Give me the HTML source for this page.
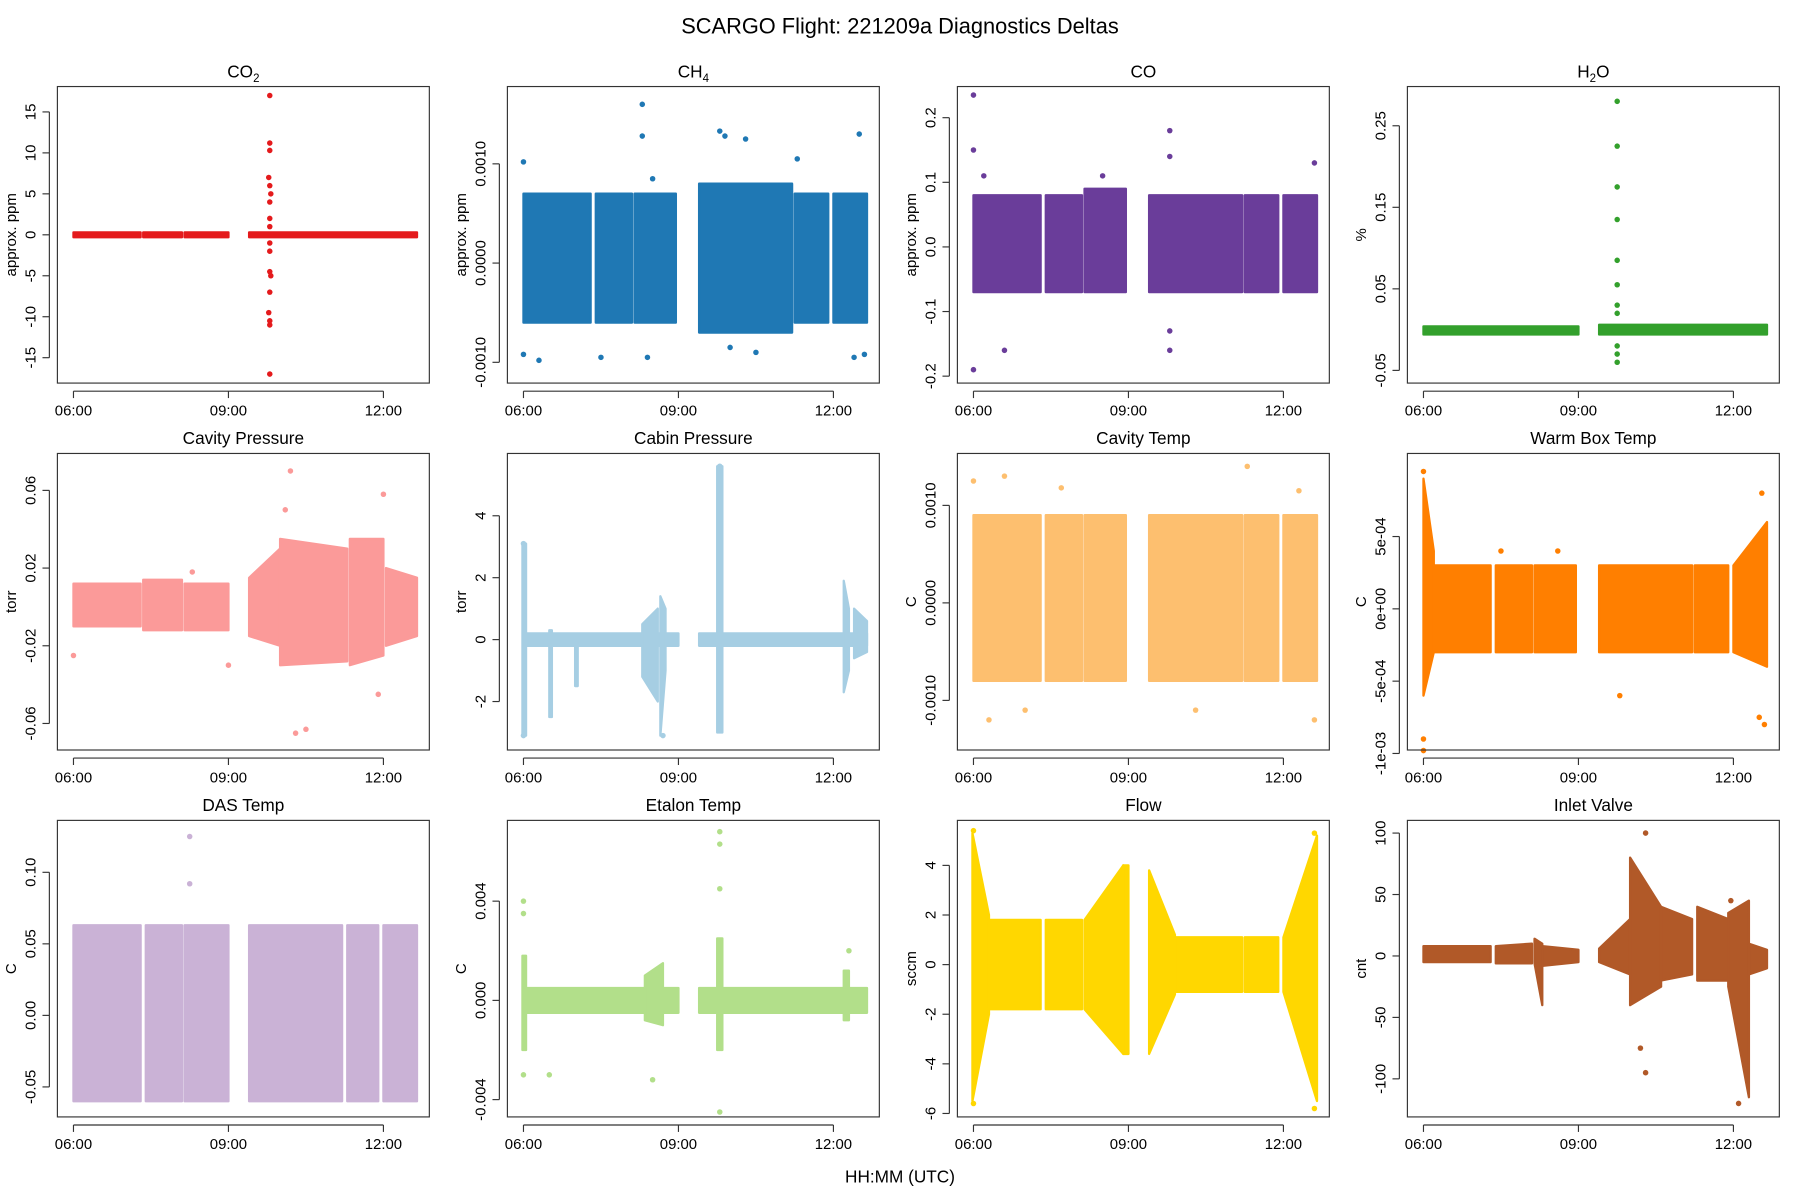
<!DOCTYPE html>
<html><head><meta charset="utf-8"><style>
html,body{margin:0;padding:0;background:#fff;}
svg{display:block;font-family:"Liberation Sans",sans-serif;}
</style></head><body>
<svg id="chart" width="1800" height="1200" viewBox="0 0 1568 1040" preserveAspectRatio="none" xmlns="http://www.w3.org/2000/svg">
<rect width="1568" height="1040" fill="#fff"/>
<text x="784" y="29" text-anchor="middle" font-size="19">SCARGO Flight: 221209a  Diagnostics Deltas</text>
<text x="784" y="1025" text-anchor="middle" font-size="15">HH:MM (UTC)</text>
</svg>
<script>
const xTickHours=[6,9,12];
const xTickLabels=["06:00","09:00","12:00"];
// segments: [t0,t1,lo0,hi0,lo1,hi1]; points: [t,v]
const co2Segs=[[6,7.3,-0.3,0.3,-0.3,0.3],[7.35,8.1,-0.3,0.3,-0.3,0.3],[8.15,9.0,-0.3,0.3,-0.3,0.3],[9.4,12.65,-0.3,0.3,-0.3,0.3]];
const co2Pts=[[9.8,17],[9.8,11.2],[9.8,10.3],[9.78,7],[9.8,6],[9.82,5],[9.8,4],[9.8,2],[9.8,1],[9.8,-1],[9.8,-2],[9.8,-4.5],[9.82,-5],[9.8,-7],[9.78,-9.5],[9.8,-10.5],[9.8,-11],[9.8,-17]];
const ch4Segs=[[6,7.3,-0.0006,0.0007,-0.0006,0.0007],[7.4,8.1,-0.0006,0.0007,-0.0006,0.0007],[8.15,8.95,-0.0006,0.0007,-0.0006,0.0007],[9.4,11.2,-0.0007,0.0008,-0.0007,0.0008],[11.25,11.9,-0.0006,0.0007,-0.0006,0.0007],[12.0,12.65,-0.0006,0.0007,-0.0006,0.0007]];
const ch4Pts=[[6,0.00102],[6,-0.00092],[6.3,-0.00098],[7.5,-0.00095],[8.3,0.0016],[8.3,0.00128],[8.4,-0.00095],[8.5,0.00085],[9.8,0.00133],[9.9,0.00128],[10.3,0.00125],[10.5,-0.0009],[11.3,0.00105],[12.5,0.0013],[12.4,-0.00095],[12.6,-0.00092],[10.0,-0.00085]];
const coSegs=[[6,7.3,-0.07,0.08,-0.07,0.08],[7.4,8.1,-0.07,0.08,-0.07,0.08],[8.15,8.95,-0.07,0.09,-0.07,0.09],[9.4,11.2,-0.07,0.08,-0.07,0.08],[11.25,11.9,-0.07,0.08,-0.07,0.08],[12.0,12.65,-0.07,0.08,-0.07,0.08]];
const coPts=[[6,0.235],[6,0.15],[6,-0.19],[6.6,-0.16],[9.8,0.18],[9.8,0.14],[9.8,-0.16],[9.8,-0.13],[12.6,0.13],[6.2,0.11],[8.5,0.11]];
const h2oSegs=[[6,9.0,-0.006,0.004,-0.006,0.004],[9.4,12.65,-0.006,0.006,-0.006,0.006]];
const h2oPts=[[9.75,0.28],[9.75,0.225],[9.75,0.175],[9.75,0.135],[9.75,0.085],[9.75,0.055],[9.75,0.03],[9.75,0.02],[9.75,-0.02],[9.75,-0.03],[9.75,-0.04]];
const cpSegs=[[6,7.3,-0.01,0.012,-0.01,0.012],[7.35,8.1,-0.012,0.014,-0.012,0.014],[8.15,9.0,-0.012,0.012,-0.012,0.012],[9.4,10.0,-0.015,0.015,-0.02,0.03],[10.0,11.3,-0.03,0.035,-0.028,0.03],[11.35,12.0,-0.03,0.035,-0.025,0.035],[12.05,12.65,-0.02,0.02,-0.015,0.015]];
const cpPts=[[6,-0.025],[10.2,0.07],[10.3,-0.065],[10.5,-0.063],[12.0,0.058],[10.1,0.05],[11.9,-0.045],[9.0,-0.03],[8.3,0.018]];
const cabSegs=[[6,9.0,-0.2,0.2,-0.2,0.2],[9.4,12.65,-0.2,0.2,-0.2,0.2],[5.98,6.05,-3.1,3.1,-3.1,3.1],[6.5,6.55,-2.5,0.3,-2.5,0.3],[7.0,7.05,-1.5,0.1,-1.5,0.1],[8.3,8.6,-1.2,0.5,-2,1],[8.65,8.75,-3.1,1.4,-1,1],[9.75,9.85,-3,5.6,-3,5.6],[12.2,12.3,-1.7,1.9,-1,1],[12.4,12.65,-0.6,1,-0.4,0.6]];
const cabPts=[[9.8,5.6],[6,3.1],[6,-3.1],[8.7,-3.1]];
const ctSegs=[[6,7.3,-0.0008,0.0009,-0.0008,0.0009],[7.4,8.1,-0.0008,0.0009,-0.0008,0.0009],[8.15,8.95,-0.0008,0.0009,-0.0008,0.0009],[9.4,11.2,-0.0008,0.0009,-0.0008,0.0009],[11.25,11.9,-0.0008,0.0009,-0.0008,0.0009],[12.0,12.65,-0.0008,0.0009,-0.0008,0.0009]];
const ctPts=[[6,0.00125],[6.3,-0.0012],[6.6,0.0013],[7.7,0.00118],[11.3,0.0014],[12.3,0.00115],[12.6,-0.0012],[7.0,-0.0011],[10.3,-0.0011]];
const wbSegs=[[6,6.2,-0.0006,0.0009,-0.0003,0.0004],[6.2,7.3,-0.0003,0.0003,-0.0003,0.0003],[7.4,8.1,-0.0003,0.0003,-0.0003,0.0003],[8.15,8.95,-0.0003,0.0003,-0.0003,0.0003],[9.4,11.2,-0.0003,0.0003,-0.0003,0.0003],[11.25,11.9,-0.0003,0.0003,-0.0003,0.0003],[12.0,12.65,-0.0003,0.0003,-0.0004,0.0006]];
const wbPts=[[6,0.00095],[6,-0.00098],[6,-0.0009],[9.8,-0.0006],[12.6,-0.0008],[12.5,-0.00075],[12.55,0.0008],[7.5,0.0004],[8.6,0.0004]];
const dasSegs=[[6,7.3,-0.06,0.063,-0.06,0.063],[7.4,8.1,-0.06,0.063,-0.06,0.063],[8.15,9.0,-0.06,0.063,-0.06,0.063],[9.4,11.2,-0.06,0.063,-0.06,0.063],[11.3,11.9,-0.06,0.063,-0.06,0.063],[12.0,12.65,-0.06,0.063,-0.06,0.063]];
const dasPts=[[8.25,0.125],[8.25,0.092]];
const etSegs=[[6,9.0,-0.0005,0.0005,-0.0005,0.0005],[9.4,12.65,-0.0005,0.0005,-0.0005,0.0005],[5.98,6.05,-0.002,0.0018,-0.002,0.0018],[8.35,8.7,-0.0008,0.001,-0.001,0.0015],[9.75,9.85,-0.002,0.0025,-0.002,0.0025],[12.2,12.3,-0.0008,0.0012,-0.0008,0.0012]];
const etPts=[[6,0.004],[6,-0.003],[6.5,-0.003],[9.8,0.0068],[9.8,0.0063],[9.8,0.0045],[9.8,-0.0045],[8.5,-0.0032],[12.3,0.002],[6,0.0035]];
const flowSegs=[[5.98,6.3,-5.5,5.3,-2,2],[6.3,7.3,-1.8,1.8,-1.8,1.8],[7.4,8.1,-1.8,1.8,-1.8,1.8],[8.15,8.9,-1.8,1.8,-3.6,4.0],[8.9,9.0,-3.6,4.0,-3.6,4.0],[9.4,9.9,-3.6,3.8,-1.2,1.2],[9.9,11.2,-1.1,1.1,-1.1,1.1],[11.25,11.9,-1.1,1.1,-1.1,1.1],[12.0,12.65,-1.1,1.1,-5.5,5.2]];
const flowPts=[[6,-5.6],[6,5.4],[12.6,-5.8],[12.6,5.3]];
const ivSegs=[[6,7.3,-5,8,-5,8],[7.4,8.1,-6,8,-6,10],[8.15,8.3,-6,14,-40,10],[8.3,9.0,-8,8,-5,5],[9.4,10.0,-5,6,-15,30],[10.0,10.6,-40,80,-25,40],[10.6,11.2,-20,40,-15,30],[11.3,11.9,-20,40,-20,30],[11.9,12.3,-25,35,-115,45],[12.3,12.65,-15,10,-10,5]];
const ivPts=[[10.3,100],[10.3,-95],[10.2,-75],[12.1,-120],[11.95,45]];

const panels=[
 {name:"co2",title:"CO",sub:"2",ylab:"approx. ppm",col:"#E41A1C",r:0,c:0,ticks:[-15,-10,-5,0,5,10,15],tl:["-15","-10","-5","0","5","10","15"],cal:[-15,310,15,97],segs:co2Segs,pts:co2Pts},
 {name:"ch4",title:"CH",sub:"4",ylab:"approx. ppm",col:"#1F78B4",r:0,c:1,ticks:[-0.001,0,0.001],tl:["-0.0010","0.0000","0.0010"],cal:[-0.001,314,0.001,142],segs:ch4Segs,pts:ch4Pts},
 {name:"co",title:"CO",sub:"",ylab:"approx. ppm",col:"#6A3D9A",r:0,c:2,ticks:[-0.2,-0.1,0,0.1,0.2],tl:["-0.2","-0.1","0.0","0.1","0.2"],cal:[-0.2,326,0.2,102],segs:coSegs,pts:coPts},
 {name:"h2o",title:"H",sub:"2",tail:"O",ylab:"%",col:"#33A02C",r:0,c:3,ticks:[-0.05,0.05,0.15,0.25],tl:["-0.05","0.05","0.15","0.25"],cal:[-0.05,321,0.25,109],segs:h2oSegs,pts:h2oPts},
 {name:"cavity-pressure",title:"Cavity Pressure",ylab:"torr",col:"#FB9A99",r:1,c:0,ticks:[-0.06,-0.02,0.02,0.06],tl:["-0.06","-0.02","0.02","0.06"],cal:[-0.06,627,0.06,425],segs:cpSegs,pts:cpPts},
 {name:"cabin-pressure",title:"Cabin Pressure",ylab:"torr",col:"#A6CEE3",r:1,c:1,ticks:[-2,0,2,4],tl:["-2","0","2","4"],cal:[-2,608,4,447],segs:cabSegs,pts:cabPts},
 {name:"cavity-temp",title:"Cavity Temp",ylab:"C",col:"#FDBF6F",r:1,c:2,ticks:[-0.001,0,0.001],tl:["-0.0010","0.0000","0.0010"],cal:[-0.001,607,0.001,438],segs:ctSegs,pts:ctPts},
 {name:"warm-box-temp",title:"Warm Box Temp",ylab:"C",col:"#FF7F00",r:1,c:3,ticks:[-0.001,-0.0005,0,0.0005],tl:["-1e-03","-5e-04","0e+00","5e-04"],cal:[-0.001,653,0.0005,465],segs:wbSegs,pts:wbPts},
 {name:"das-temp",title:"DAS Temp",ylab:"C",col:"#CAB2D6",r:2,c:0,ticks:[-0.05,0,0.05,0.1],tl:["-0.05","0.00","0.05","0.10"],cal:[-0.05,942,0.1,756],segs:dasSegs,pts:dasPts},
 {name:"etalon-temp",title:"Etalon Temp",ylab:"C",col:"#B2DF8A",r:2,c:1,ticks:[-0.004,0,0.004],tl:["-0.004","0.000","0.004"],cal:[-0.004,953,0.004,781],segs:etSegs,pts:etPts},
 {name:"flow",title:"Flow",ylab:"sccm",col:"#FFD700",r:2,c:2,ticks:[-6,-4,-2,0,2,4],tl:["-6","-4","-2","0","2","4"],cal:[-6,965,4,750],segs:flowSegs,pts:flowPts},
 {name:"inlet-valve",title:"Inlet Valve",ylab:"cnt",col:"#B15928",r:2,c:3,ticks:[-100,-50,0,50,100],tl:["-100","-50","0","50","100"],cal:[-100,935,100,722],segs:ivSegs,pts:ivPts}
];
const svg=document.getElementById('chart');
const NS="http://www.w3.org/2000/svg";
function mk(tag,attrs,parent){const e=document.createElementNS(NS,tag);for(const k in attrs)e.setAttribute(k,attrs[k]);parent.appendChild(e);return e;}
const colX=[50,442,834,1226], rowY=[75,393,711], W=324, H=257;
panels.forEach(p=>{
  const L=colX[p.c], T=rowY[p.r];
  const g=mk('g',{},svg);
  
  
  const xs=t=>L+14+(t-6)*45;
  const ys=v=>p.cal[1]+(v-p.cal[0])*(p.cal[3]-p.cal[1])/(p.cal[2]-p.cal[0]);
  p.segs.forEach(s=>{
    const poly=mk('polygon',{points:`${xs(s[0])},${ys(s[3])} ${xs(s[1])},${ys(s[5])} ${xs(s[1])},${ys(s[4])} ${xs(s[0])},${ys(s[2])}`,fill:p.col,stroke:p.col,'stroke-width':2,'stroke-linejoin':'round'},g);
    
    
  });
  p.pts.forEach(q=>{
    const c=mk('circle',{cx:xs(q[0]),cy:ys(q[1]),r:2.4,fill:p.col},g);
    
    
  });
  const box=mk('rect',{x:L,y:T,width:W,height:H,fill:'none',stroke:'#333','stroke-width':1},g);
  
  
  const tt=mk('text',{x:L+W/2,y:T-8,'text-anchor':'middle','font-size':15},g);
  
  
  tt.appendChild(document.createTextNode(p.title));
  if(p.sub){const ts=mk('tspan',{'font-size':10,dy:4},tt);ts.textContent=p.sub;}
  if(p.tail){const ts=mk('tspan',{dy:-4},tt);ts.textContent=p.tail;}
  const xa=mk('g',{},g);
  
  
  mk('line',{x1:xs(6),x2:xs(12),y1:T+H+7,y2:T+H+7,stroke:'#333'},xa);
  xTickHours.forEach((h,i)=>{
    mk('line',{x1:xs(h),x2:xs(h),y1:T+H+7,y2:T+H+13,stroke:'#333'},xa);
    const lt=mk('text',{x:xs(h),y:T+H+28,'text-anchor':'middle','font-size':13},xa);
    
    
    lt.textContent=xTickLabels[i];
  });
  const ya=mk('g',{},g);
  
  
  const y0=ys(p.ticks[0]), y1=ys(p.ticks[p.ticks.length-1]);
  mk('line',{x1:L-7,x2:L-7,y1:y0,y2:y1,stroke:'#333'},ya);
  p.ticks.forEach((v,i)=>{
    mk('line',{x1:L-13,x2:L-7,y1:ys(v),y2:ys(v),stroke:'#333'},ya);
    const lt=mk('text',{x:0,y:0,transform:`translate(${L-19},${ys(v)}) rotate(-90)`,'text-anchor':'middle','font-size':13},ya);
    
    
    lt.textContent=p.tl[i];
  });
  const yl=mk('text',{x:0,y:0,transform:`translate(${L-36},${T+H/2}) rotate(-90)`,'text-anchor':'middle','font-size':13},ya);
  
  
  yl.textContent=p.ylab;
});
</script>
</body></html>
